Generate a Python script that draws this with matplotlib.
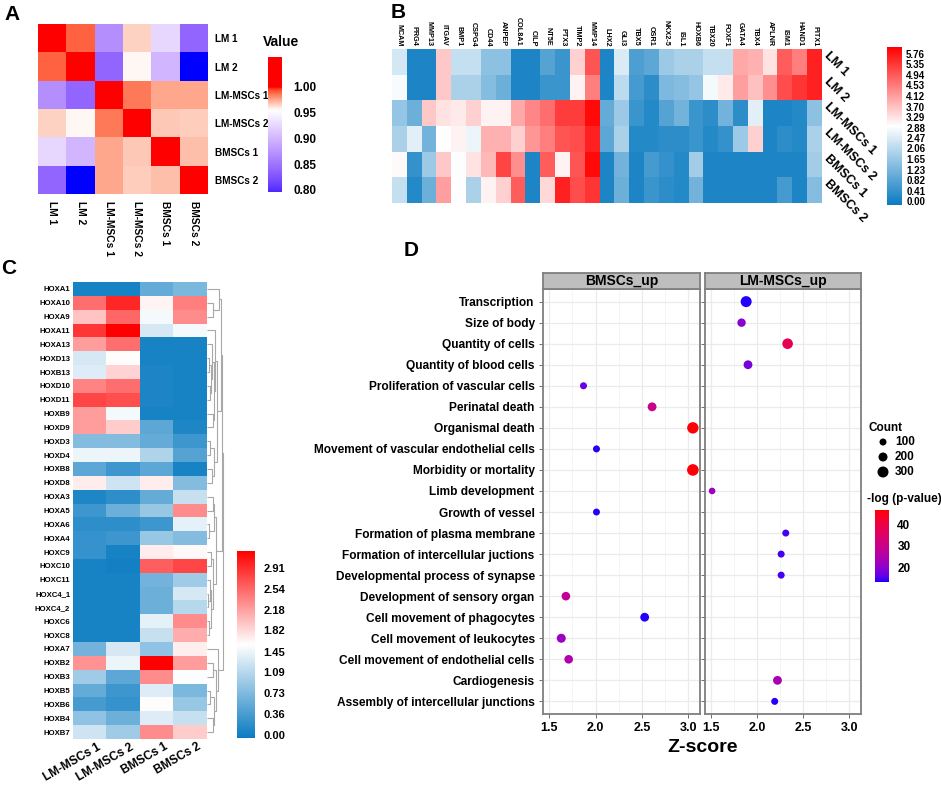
import numpy as np
import matplotlib
matplotlib.use('Agg')
import matplotlib.pyplot as plt
from matplotlib.colors import LinearSegmentedColormap, ListedColormap, Normalize, to_rgb
from matplotlib.cm import ScalarMappable

plt.rcParams['font.family'] = ['Liberation Sans', 'DejaVu Sans']
plt.rcParams['font.weight'] = 'bold'

# ---------------- data ----------------
# Panel A: sample correlation
a_samples = ['LM 1', 'LM 2', 'LM-MSCs 1', 'LM-MSCs 2', 'BMSCs 1', 'BMSCs 2']
a_lm1 = [1.00, 0.99, 0.87, 0.965, 0.925, 0.84]
a_lm2 = [0.99, 1.00, 0.84, 0.957, 0.90, 0.78]
a_lmmsc1 = [0.87, 0.84, 1.00, 0.985, 0.975, 0.975]
a_lmmsc2 = [0.965, 0.957, 0.985, 1.00, 0.968, 0.967]
a_bmsc1 = [0.925, 0.90, 0.975, 0.968, 1.00, 0.970]
a_bmsc2 = [0.84, 0.78, 0.975, 0.967, 0.970, 1.00]
a_ticks = [1.00, 0.95, 0.90, 0.85, 0.80]

# Panel B: marker genes
b_genes = ['MCAM', 'PRG4', 'MMP13', 'ITGAV', 'BMP1', 'CSPG4', 'CD44', 'ANPEP', 'COL8A1', 'CILP',
           'NT5E', 'PTX3', 'TIMP2', 'MMP14', 'LHX2', 'GLI3', 'TBX5', 'OSR1', 'NKX2-5', 'ISL1',
           'HOXB6', 'TBX20', 'FOXF1', 'GATA4', 'TBX4', 'APLNR', 'ISM1', 'HAND1', 'PITX1']
b_lm1 = [2.4, 0.1, 0.1, 3.6, 2.2, 2.2, 1.5, 1.5, 0.1, 0.1, 0.8, 0.5, 3.5, 5.0, 0.1, 2.5, 0.7, 0.9, 1.7,
         1.9, 1.9, 2.2, 2.2, 4.0, 3.9, 3.3, 4.9, 4.5, 5.6]
b_lm2 = [2.85, 0.1, 0.1, 3.6, 1.9, 1.9, 1.4, 1.1, 0.1, 0.1, 0.5, 0.5, 3.1, 4.5, 0.1, 2.1, 0.6, 0.3, 1.3,
         1.4, 1.6, 2.8, 3.2, 4.1, 3.7, 4.3, 5.1, 5.4, 5.6]
b_lmmsc1 = [1.6, 1.1, 3.6, 3.3, 3.2, 3.5, 3.1, 3.1, 4.0, 4.4, 4.7, 5.3, 5.3, 5.9, 1.0, 1.7, 0.5, 0.2, 0.8,
            1.2, 0.5, 0.3, 1.2, 0.3, 2.6, 0.1, 0.1, 0.2, 1.5]
b_lmmsc2 = [1.9, 2.6, 1.2, 2.95, 3.1, 2.7, 3.9, 3.9, 3.5, 4.2, 4.5, 5.0, 5.1, 5.6, 0.9, 1.9, 0.2, 0.2, 0.3,
            0.3, 0.5, 0.2, 0.4, 1.7, 3.5, 0.1, 0.3, 0.2, 1.9]
b_bmsc1 = [3.0, 0.4, 1.7, 3.6, 2.9, 3.3, 3.8, 5.2, 4.3, 0.1, 4.9, 3.1, 5.0, 5.9, 0.1, 1.2, 0.1, 0.6, 0.4,
           0.2, 1.8, 0.1, 0.1, 0.1, 0.1, 0.1, 0.1, 0.1, 1.8]
b_bmsc2 = [2.2, 0.2, 1.1, 4.1, 2.95, 1.9, 3.1, 3.5, 4.9, 0.1, 3.4, 5.6, 5.1, 5.4, 0.1, 1.1, 0.1, 0.5, 0.3,
           0.2, 1.2, 0.1, 0.1, 0.1, 0.1, 0.1, 0.6, 0.1, 1.4]
b_ticks = [5.76, 5.35, 4.94, 4.53, 4.12, 3.70, 3.29, 2.88, 2.47, 2.06, 1.65, 1.23, 0.82, 0.41, 0.00]

# Panel C: HOX genes
c_genes = ['HOXA1', 'HOXA10', 'HOXA9', 'HOXA11', 'HOXA13', 'HOXD13', 'HOXB13', 'HOXD10', 'HOXD11',
           'HOXB9', 'HOXD9', 'HOXD3', 'HOXD4', 'HOXB8', 'HOXD8', 'HOXA3', 'HOXA5', 'HOXA6', 'HOXA4',
           'HOXC9', 'HOXC10', 'HOXC11', 'HOXC4_1', 'HOXC4_2', 'HOXC6', 'HOXC8', 'HOXA7', 'HOXB2',
           'HOXB3', 'HOXB5', 'HOXB6', 'HOXB4', 'HOXB7']
c_samples = ['LM-MSCs 1', 'LM-MSCs 2', 'BMSCs 1', 'BMSCs 2']
c_lmmsc1 = [0.05, 2.5, 1.95, 2.85, 2.2, 1.3, 1.35, 2.35, 2.75, 2.2, 2.2, 0.75, 1.45, 0.5, 1.7, 0.1, 0.3,
            0.2, 0.25, 0.25, 0.05, 0.05, 0.05, 0.05, 0.05, 0.05, 0.65, 2.25, 0.95, 0.55, 0.35, 0.85, 1.25]
c_lmmsc2 = [0.05, 2.95, 2.55, 3.2, 2.5, 1.6, 1.85, 2.5, 2.7, 1.5, 1.9, 0.75, 1.45, 0.3, 1.25, 0.2, 0.6,
            0.2, 0.3, 0.05, 0.02, 0.05, 0.05, 0.05, 0.05, 0.05, 1.3, 1.45, 0.5, 0.3, 0.25, 0.6, 0.95]
c_bmsc1 = [0.55, 1.65, 1.5, 1.3, 0.05, 0.05, 0.08, 0.08, 0.08, 0.05, 0.5, 0.55, 1.05, 0.5, 1.7, 0.55, 0.9,
           0.3, 0.9, 1.7, 2.6, 0.65, 0.6, 0.6, 1.4, 1.2, 0.85, 3.2, 2.3, 1.35, 1.6, 1.35, 2.3]
c_bmsc2 = [0.7, 2.4, 2.3, 1.5, 0.05, 0.05, 0.05, 0.05, 0.05, 0.05, 0.1, 0.3, 0.45, 0.05, 0.75, 1.2, 2.3,
           1.4, 0.75, 1.62, 2.75, 0.95, 1.3, 1.1, 2.3, 2.1, 1.68, 2.2, 1.55, 0.7, 0.9, 1.2, 1.9]
c_ticks = [2.91, 2.54, 2.18, 1.82, 1.45, 1.09, 0.73, 0.36, 0.00]
# row dendrogram: nodes are (left, right, merge height); leaves are row indices
c_upper = ((0, (1, 2, 6), 12),
           ((3, ((4, ((5, 6, 2), (7, 8, 3), 4), 5), (9, 10, 6), 7), 8), ((11, 12, 3), (13, 14, 5), 7), 10),
           14)
c_mid = (((15, 16, 6), (17, 18, 2), 7), ((19, 20, 4), ((21, (22, 23, 1), 3), (24, 25, 2), 4), 6), 9)
c_lower = (26, ((27, 28, 6), ((29, 30, 3), (31, 32, 6), 7), 9), 11)
c_tree = ((c_upper, c_mid, 15), c_lower, 16)

# Panel D: pathway dot plot
d_terms = ['Transcription', 'Size of body', 'Quantity of cells', 'Quantity of blood cells',
           'Proliferation of vascular cells', 'Perinatal death', 'Organismal death',
           'Movement of vascular endothelial cells', 'Morbidity or mortality', 'Limb development',
           'Growth of vessel', 'Formation of plasma membrane', 'Formation of intercellular juctions',
           'Developmental process of synapse', 'Development of sensory organ',
           'Cell movement of phagocytes', 'Cell movement of leukocytes',
           'Cell movement of endothelial cells', 'Cardiogenesis', 'Assembly of intercellular junctions']
d_groups = ['BMSCs_up', 'LM-MSCs_up']
d_group = ['LM-MSCs_up', 'LM-MSCs_up', 'LM-MSCs_up', 'LM-MSCs_up', 'BMSCs_up', 'BMSCs_up', 'BMSCs_up',
           'BMSCs_up', 'BMSCs_up', 'LM-MSCs_up', 'BMSCs_up', 'LM-MSCs_up', 'LM-MSCs_up', 'LM-MSCs_up',
           'BMSCs_up', 'BMSCs_up', 'BMSCs_up', 'BMSCs_up', 'LM-MSCs_up', 'LM-MSCs_up']
d_z = [1.88, 1.83, 2.33, 1.90, 1.87, 2.61, 3.05, 2.01, 3.05, 1.51, 2.01, 2.31, 2.26, 2.26, 1.68, 2.53,
       1.63, 1.71, 2.22, 2.19]
d_count = [300, 170, 280, 190, 100, 190, 320, 100, 330, 80, 95, 100, 100, 100, 180, 190, 200, 180, 190, 100]
d_logp = [14, 20, 38, 18, 17, 30, 46, 14, 46, 22, 14, 15, 15, 15, 28, 14, 22, 25, 24, 14]
d_count_keys = [100, 200, 300]
d_logp_ticks = [20, 30, 40]

# ---------------- helpers ----------------
W, H = 941, 787
fig = plt.figure(figsize=(W / 100, H / 100), dpi=100)


def ax_px(x0, y0, x1, y1, **kw):
    return fig.add_axes([x0 / W, 1 - y1 / H, (x1 - x0) / W, (y1 - y0) / H], **kw)


_M = np.array([[0.4124, 0.3576, 0.1805], [0.2126, 0.7152, 0.0722], [0.0193, 0.1192, 0.9505]])
_WP = np.array([0.95047, 1.0, 1.08883])


def to_lab(c):
    rgb = np.array(to_rgb(c))
    lin = np.where(rgb <= 0.04045, rgb / 12.92, ((rgb + 0.055) / 1.055) ** 2.4)
    t = (_M @ lin) / _WP
    f = np.where(t > (6 / 29) ** 3, np.cbrt(t), t / (3 * (6 / 29) ** 2) + 4 / 29)
    return np.array([116 * f[1] - 16, 500 * (f[0] - f[1]), 200 * (f[1] - f[2])])


def from_lab(lab):
    L, a, b = lab
    fy = (L + 16) / 116
    f = np.array([fy + a / 500, fy, fy - b / 200])
    t = np.where(f > 6 / 29, f ** 3, 3 * (6 / 29) ** 2 * (f - 4 / 29))
    lin = np.clip(np.linalg.inv(_M) @ (t * _WP), 0, 1)
    rgb = np.where(lin <= 0.0031308, 12.92 * lin, 1.055 * lin ** (1 / 2.4) - 0.055)
    return np.clip(rgb, 0, 1)


def lab_cmap(colors, positions, n=256):
    labs = [to_lab(c) for c in colors]
    out = []
    for x in np.linspace(0, 1, n):
        i = int(np.clip(np.searchsorted(positions, x, side='right') - 1, 0, len(positions) - 2))
        t = (x - positions[i]) / (positions[i + 1] - positions[i])
        out.append(from_lab(labs[i] * (1 - t) + labs[i + 1] * t))
    return ListedColormap(out)


ov = fig.add_axes([0, 0, 1, 1], zorder=-5)
ov.set_xlim(0, W)
ov.set_ylim(H, 0)
ov.axis('off')
for lt, (lx, ly) in zip('ABCD', [(12, 14), (398, 13), (9, 269), (411, 251)]):
    ov.text(lx, ly, lt, fontsize=15, fontweight='bold', ha='center', va='center')

# ---------------- Panel A ----------------
a_data = np.array([a_lm1, a_lm2, a_lmmsc1, a_lmmsc2, a_bmsc1, a_bmsc2])
a_lo, a_hi = 0.78, 1.06
a_cmap = lab_cmap(['#0000FF', '#FFFFFF', '#FF0000', '#FF0000'],
                  [0, (0.955 - a_lo) / (a_hi - a_lo), (1.0 - a_lo) / (a_hi - a_lo), 1])
a_norm = Normalize(a_lo, a_hi)
axA = ax_px(38, 24, 208, 194)
axA.imshow(a_data, cmap=a_cmap, norm=a_norm, aspect='auto', interpolation='nearest')
axA.set_xticks(range(6))
axA.set_xticklabels(a_samples, rotation=270, fontsize=7.4, fontweight='bold')
axA.set_yticks(range(6))
axA.set_yticklabels(a_samples, fontsize=7.2, fontweight='bold')
axA.yaxis.tick_right()
axA.tick_params(length=0, pad=5)
for s in axA.spines.values():
    s.set_visible(False)
caxA = ax_px(268, 57, 282, 192)
cbA = fig.colorbar(ScalarMappable(norm=a_norm, cmap=a_cmap), cax=caxA, ticks=a_ticks)
caxA.set_ylim(0.796, 1.058)
cbA.ax.set_yticklabels(['%.2f' % t for t in a_ticks], fontsize=8.5, fontweight='bold')
cbA.outline.set_visible(False)
cbA.ax.tick_params(length=3, color='white', pad=5)
ov.text(263, 42, 'Value', fontsize=10, fontweight='bold', ha='left', va='center')

# ---------------- Panel B ----------------
b_data = np.array([b_lm1, b_lm2, b_lmmsc1, b_lmmsc2, b_bmsc1, b_bmsc2])
bc_blue = '#0A7BC1'
b_cmap = LinearSegmentedColormap.from_list('b_bwr', [bc_blue, '#FFFFFF', '#FF0000'])
b_norm = Normalize(-0.15, 6.03)
axB = ax_px(392, 49, 822, 203)
axB.imshow(b_data, cmap=b_cmap, norm=b_norm, aspect='auto', interpolation='nearest')
axB.set_xticks(range(len(b_genes)))
axB.set_xticklabels(b_genes, rotation=270, fontsize=5.2, fontweight='bold', va='bottom')
axB.xaxis.tick_top()
axB.set_yticks([])
axB.tick_params(length=0, pad=2)
for s in axB.spines.values():
    s.set_visible(False)
for i, lab in enumerate(a_samples):
    yy = 49 + (i + 0.5) * (154 / 6)
    ov.text(826, yy - 8, lab, rotation=-45, rotation_mode='anchor', ha='left', va='center',
            fontsize=9, fontweight='bold')
caxB = ax_px(887, 47, 902, 205)
cbB = fig.colorbar(ScalarMappable(norm=b_norm, cmap=b_cmap), cax=caxB, ticks=b_ticks)
cbB.ax.set_yticklabels(['%.2f' % t for t in b_ticks], fontsize=7, fontweight='bold')
cbB.outline.set_visible(False)
cbB.ax.tick_params(length=0, pad=3)

# ---------------- Panel C ----------------
c_data = np.array([c_lmmsc1, c_lmmsc2, c_bmsc1, c_bmsc2]).T
c_cmap = LinearSegmentedColormap.from_list('c_bwr', [bc_blue, '#FFFFFF', '#FF0000'])
c_norm = Normalize(-0.05, 3.2)
axC = ax_px(73, 282, 207, 739)
axC.imshow(c_data, cmap=c_cmap, norm=c_norm, aspect='auto', interpolation='nearest')
axC.set_yticks(range(len(c_genes)))
axC.set_yticklabels(c_genes, fontsize=5.6, fontweight='bold')
axC.set_xticks([])
axC.tick_params(length=0, pad=2)
for s in axC.spines.values():
    s.set_visible(False)
for j, lab in enumerate(c_samples):
    xx = 73 + (j + 0.5) * (134 / 4) + 7
    ov.text(xx, 741, lab, rotation=30, rotation_mode='anchor', ha='right', va='top',
            fontsize=8.6, fontweight='bold')

axCd = ax_px(207, 282, 225, 739)
axCd.set_ylim(len(c_genes) - 0.5, -0.5)
axCd.set_xlim(0, 18)
axCd.axis('off')


def draw_tree(node):
    if isinstance(node, int):
        return float(node), 0.0
    l, r, h = node
    yl, hl = draw_tree(l)
    yr, hr = draw_tree(r)
    axCd.plot([hl, h, h, hr], [yl, yl, yr, yr], color='#A8A8A8', lw=0.8, solid_capstyle='butt')
    return (yl + yr) / 2, h


draw_tree(c_tree)

caxC = ax_px(237, 551, 255, 738)
cbC = fig.colorbar(ScalarMappable(norm=c_norm, cmap=c_cmap), cax=caxC, ticks=c_ticks)
cbC.ax.set_yticklabels(['%.2f' % t for t in c_ticks], fontsize=8, fontweight='bold')
cbC.outline.set_visible(False)
cbC.ax.tick_params(length=0, pad=6)

# ---------------- Panel D ----------------
d_cmap = lab_cmap(['#0000FF', '#FF0000'], [0, 1])
d_norm = Normalize(13.6, 46.4)


def size_of(c):
    d_px = 5.0 + 0.02 * np.asarray(c, float)
    return (d_px * 0.72) ** 2


zr = max(d_z) - min(d_z)
d_xlim = (min(d_z) - 0.05 * zr, max(d_z) + 0.05 * zr)
n_terms = len(d_terms)
panel_px = [(543, 700), (705, 861)]
for gi, (g, (x0, x1)) in enumerate(zip(d_groups, panel_px)):
    ax = ax_px(x0, 289, x1, 714)
    ax.set_xlim(*d_xlim)
    ax.set_ylim(n_terms - 0.4, -0.6)
    ax.set_xticks([1.5, 2.0, 2.5, 3.0])
    ax.set_xticks([1.75, 2.25, 2.75], minor=True)
    ax.set_xticklabels(['1.5', '2.0', '2.5', '3.0'], fontsize=9, fontweight='bold')
    ax.set_yticks(range(n_terms))
    if gi == 0:
        ax.set_yticklabels(d_terms, fontsize=8.6, fontweight='bold')
    else:
        ax.set_yticklabels([])
        ax.tick_params(axis='y', length=0)
    ax.tick_params(axis='both', which='major', length=3, color='#555555', width=0.6, pad=3)
    ax.tick_params(axis='x', which='minor', length=0)
    ax.grid(True, which='major', color='#EBEBEB', lw=0.9)
    ax.grid(True, which='minor', axis='x', color='#F4F4F4', lw=0.6)
    ax.set_axisbelow(True)
    for s in ax.spines.values():
        s.set_color('#7F7F7F')
        s.set_linewidth(1.3)
    idx = [i for i, gg in enumerate(d_group) if gg == g]
    ax.scatter([d_z[i] for i in idx], idx, s=size_of([d_count[i] for i in idx]),
               c=[d_logp[i] for i in idx], cmap=d_cmap, norm=d_norm, edgecolors='none', zorder=3)
    sax = ax_px(x0, 273, x1, 289)
    sax.set_xticks([])
    sax.set_yticks([])
    sax.set_facecolor('#BEBEBE')
    for s in sax.spines.values():
        s.set_color('#7F7F7F')
        s.set_linewidth(1.3)
    sax.text(0.5, 0.5, g, transform=sax.transAxes, ha='center', va='center', fontsize=10,
             fontweight='bold')

ov.text(703, 748, 'Z-score', fontsize=14, fontweight='bold', ha='center', va='center')
# legends
ov.text(869, 428, 'Count', fontsize=8.5, fontweight='bold', ha='left', va='center')
for k, cnt in enumerate(d_count_keys):
    ov.scatter([883], [442 + 15 * k], s=size_of(cnt), color='black', edgecolors='none')
    ov.text(895, 442 + 15 * k, str(cnt), fontsize=8.5, fontweight='bold', ha='left', va='center')
ov.text(867, 499, '-log (p-value)', fontsize=8.5, fontweight='bold', ha='left', va='center')
caxD = ax_px(875, 510, 889, 582)
cbD = fig.colorbar(ScalarMappable(norm=d_norm, cmap=d_cmap), cax=caxD, ticks=d_logp_ticks)
cbD.ax.set_yticklabels([str(t) for t in d_logp_ticks], fontsize=8.5, fontweight='bold')
cbD.outline.set_visible(False)
cbD.ax.tick_params(length=2, color='white', pad=4)

fig.savefig('out.png', dpi=100)
